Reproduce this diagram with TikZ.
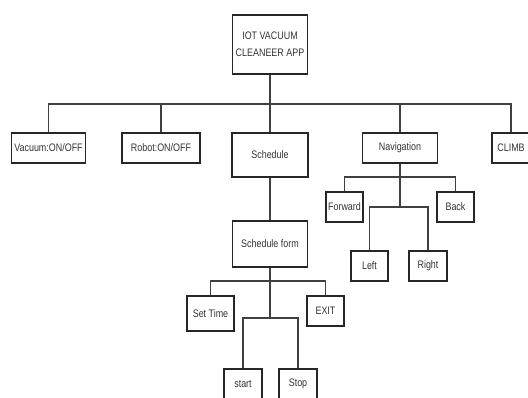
\documentclass[tikz,border=0pt]{standalone}
\usepackage{fontspec}
\setmainfont{Liberation Sans}[FakeStretch=0.82]
\usepackage{tikz}
\usetikzlibrary{positioning}

\begin{document}
\begin{tikzpicture}[x=0.02cm,y=-0.02cm,
    box/.style={rectangle,draw=black!85,line width=0.75pt,inner sep=1pt,
      font=\fontsize{6.2}{9.6}\selectfont,text=black!80},
    wire/.style={draw=black!75,line width=0.7pt}]
  \useasboundingbox (0,0) rectangle (528,397);
      \node at (270,44.5) [box,align=center,minimum width=1.5cm,minimum height=1.18cm] (app) {IOT VACUUM\\CLEANEER APP};
      \node at (48.5,148) [box,minimum width=1.48cm,minimum height=0.6cm] (vac) {Vacuum:ON/OFF};
      \node at (161,148) [box,minimum width=1.56cm,minimum height=0.6cm] (robot) {Robot:ON/OFF};
      \node at (270,155) [box,minimum width=1.52cm,minimum height=0.88cm] (sched) {Schedule};
      \node at (400,148) [box,minimum width=1.5cm,minimum height=0.6cm] (nav) {Navigation};
      \node at (511,148) [box,minimum width=0.76cm,minimum height=0.6cm] (climb) {CLIMB};
      \node at (270,244) [box,minimum width=1.5cm,minimum height=0.92cm] (form) {Schedule form};
      \node at (210.5,313.5) [box,minimum width=0.94cm,minimum height=0.7cm] (settime) {Set Time};
      \node at (325.5,311) [box,minimum width=0.74cm,minimum height=0.6cm] (exit) {EXIT};
      \node at (243,384) [box,minimum width=0.76cm,minimum height=0.6cm] (start) {start};
      \node at (298,384) [box,minimum width=0.76cm,minimum height=0.6cm] (stop) {Stop};
      \node at (344.5,207) [box,minimum width=0.74cm,minimum height=0.6cm] (fwd) {Forward};
      \node at (455.5,207) [box,minimum width=0.74cm,minimum height=0.6cm] (back) {Back};
      \node at (369.5,266) [box,minimum width=0.74cm,minimum height=0.6cm] (left) {Left};
      \node at (428,266) [box,minimum width=0.76cm,minimum height=0.6cm] (right) {Right};
      \coordinate (appbus) at (270,104);
      \coordinate (navbus) at (400,177);
      \coordinate (turnbus) at (400,207);
      \coordinate (formbus) at (270,281);
      \coordinate (runbus) at (270,318);
      \draw[wire] (app.south) -- (appbus);
      \foreach \c in {vac,robot,sched,nav,climb}
        \draw[wire] (appbus) -| (\c.north);
      \draw[wire] (nav.south) -- (navbus) -- (turnbus);
      \foreach \c in {fwd,back}
        \draw[wire] (navbus) -| (\c.north);
      \foreach \c in {left,right}
        \draw[wire] (turnbus) -| (\c.north);
      \draw[wire] (sched.south) -- (form.north);
      \draw[wire] (form.south) -- (formbus) -- (runbus);
      \foreach \c in {settime,exit}
        \draw[wire] (formbus) -| (\c.north);
      \foreach \c in {start,stop}
        \draw[wire] (runbus) -| (\c.north);
  \end{tikzpicture}
\end{document}
